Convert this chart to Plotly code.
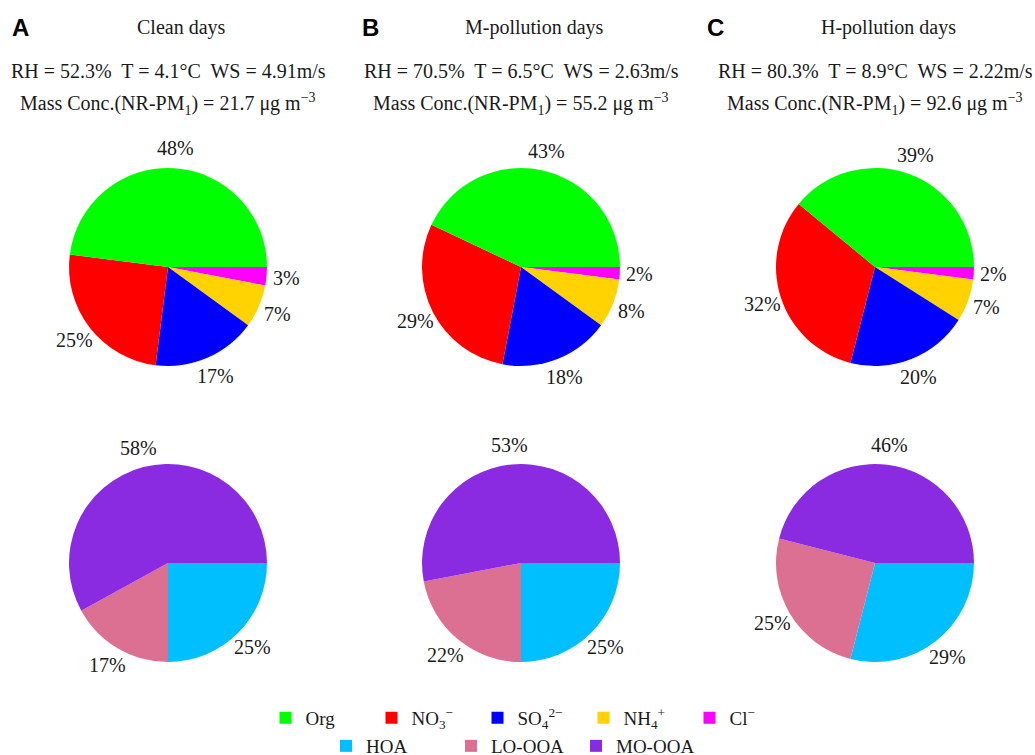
import math
import plotly.graph_objects as go

W, H = 1035, 755

panel_letters = ["A", "B", "C"]
panel_titles = ["Clean days", "M-pollution days", "H-pollution days"]
rh = ["52.3%", "70.5%", "80.3%"]
temp = ["4.1°C", "6.5°C", "8.9°C"]
ws = ["4.91m/s", "2.63m/s", "2.22m/s"]
mass_conc = ["21.7", "55.2", "92.6"]

# legend order
species_labels = ["Org", "NO<sub>3</sub><sup>−</sup>", "SO<sub>4</sub><sup>2−</sup>",
                  "NH<sub>4</sub><sup>+</sup>", "Cl<sup>−</sup>"]
species_colors = ["#00FF00", "#FF0000", "#0000FF", "#FFD200", "#FF00FF"]
species_clean = [48, 25, 17, 7, 3]
species_mpoll = [43, 29, 18, 8, 2]
species_hpoll = [39, 32, 20, 7, 2]

oa_labels = ["HOA", "LO-OOA", "MO-OOA"]
oa_colors = ["#00BFFF", "#DB7093", "#8A2BE2"]
oa_clean = [25, 17, 58]
oa_mpoll = [25, 22, 53]
oa_hpoll = [29, 25, 46]

species_values = [species_clean, species_mpoll, species_hpoll]
oa_values = [oa_clean, oa_mpoll, oa_hpoll]

# layout geometry (pixels)
col_cx = [168, 521, 875]
row_cy = [267, 563]
R = 99
LABEL_DIST = 1.2

serif = "Liberation Serif, Times New Roman, serif"
txt_col = "#1a1a1a"


def dom(cx, cy):
    return dict(x=[(cx - R) / W, (cx + R) / W], y=[1 - (cy + R) / H, 1 - (cy - R) / H])


ann = []


def pct_labels(values, cx, cy):
    """Percent labels placed along each slice's mid-angle (slices run clockwise from 3 o'clock)."""
    total = float(sum(values))
    cum = 0.0
    for v in values:
        mid = -(cum + v / 2.0) / total * 2 * math.pi
        cum += v
        px = cx + LABEL_DIST * R * math.cos(mid)
        py = cy - LABEL_DIST * R * math.sin(mid)
        ann.append(dict(text="%d%%" % v, x=px / W, y=1 - py / H, xref="paper", yref="paper",
                        xanchor="center", yanchor="middle", showarrow=False,
                        font=dict(family=serif, size=20, color=txt_col)))


fig = go.Figure()
for i in range(3):
    # drawn clockwise from 3 o'clock: Cl, NH4, SO4, NO3, Org
    vals = species_values[i][::-1]
    fig.add_trace(go.Pie(
        labels=species_labels[::-1], values=vals, sort=False,
        direction="clockwise", rotation=90,
        marker=dict(colors=species_colors[::-1], line=dict(width=0)),
        textinfo="none",
        domain=dom(col_cx[i], row_cy[0]), legend="legend",
        hoverinfo="label+percent",
    ))
    pct_labels(vals, col_cx[i], row_cy[0])
for i in range(3):
    vals = oa_values[i]
    fig.add_trace(go.Pie(
        labels=oa_labels, values=vals, sort=False,
        direction="clockwise", rotation=90,
        marker=dict(colors=oa_colors, line=dict(width=0)),
        textinfo="none",
        domain=dom(col_cx[i], row_cy[1]), legend="legend2",
        hoverinfo="label+percent",
    ))
    pct_labels(vals, col_cx[i], row_cy[1])

letter_x = [10, 360, 705]
for i in range(3):
    ann.append(dict(text="<b>%s</b>" % panel_letters[i], x=letter_x[i] / W, y=1 - 28 / H,
                    xref="paper", yref="paper", xanchor="left", yanchor="middle", showarrow=False,
                    font=dict(family="Liberation Sans, Arial, sans-serif", size=24, color="black")))
    ann.append(dict(text=panel_titles[i], x=(col_cx[i] + 13) / W, y=1 - 28 / H,
                    xref="paper", yref="paper", xanchor="center", yanchor="middle", showarrow=False,
                    font=dict(family=serif, size=20, color=txt_col)))
    ann.append(dict(text="RH = %s  T = %s  WS = %s" % (rh[i], temp[i], ws[i]),
                    x=col_cx[i] / W, y=1 - 71 / H,
                    xref="paper", yref="paper", xanchor="center", yanchor="middle", showarrow=False,
                    font=dict(family=serif, size=20, color=txt_col)))
    ann.append(dict(text="Mass Conc.(NR-PM<sub>1</sub>) = %s μg m<sup>−3</sup>" % mass_conc[i],
                    x=col_cx[i] / W, y=1 - 104 / H,
                    xref="paper", yref="paper", xanchor="center", yanchor="middle", showarrow=False,
                    font=dict(family=serif, size=20, color=txt_col)))

fig.update_layout(
    width=W, height=H,
    margin=dict(l=0, r=0, t=0, b=0, autoexpand=False),
    paper_bgcolor="white", plot_bgcolor="white",
    annotations=ann,
    legend=dict(orientation="h", x=(W / 2 + 13) / W, xanchor="center", y=1 - 718 / H, yanchor="middle",
                traceorder="reversed",
                entrywidth=61, entrywidthmode="pixels",
                font=dict(family=serif, size=19, color=txt_col), bgcolor="rgba(0,0,0,0)"),
    legend2=dict(orientation="h", x=(W / 2 - 4) / W, xanchor="center", y=1 - 746 / H, yanchor="middle",
                 entrywidth=80, entrywidthmode="pixels",
                 font=dict(family=serif, size=19, color=txt_col), bgcolor="rgba(0,0,0,0)"),
)

fig.write_html("out.html", config={"displayModeBar": False},
               post_script="document.body.style.margin='0px';document.body.style.padding='0px';")
